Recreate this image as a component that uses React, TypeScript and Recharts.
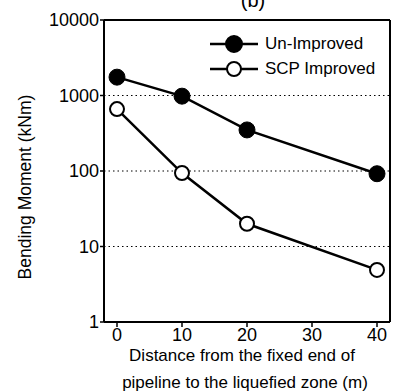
import React from 'react';
import { LineChart, Line, XAxis, YAxis, CartesianGrid, Legend, ReferenceLine } from 'recharts';

const distances = [0, 10, 20, 40];
const unImproved = [1750, 980, 350, 92];
const scpImproved = [660, 94, 20, 4.9];
const xTicks = [0, 10, 20, 30, 40];
const xMinorTicks = [5, 15, 25, 35];
const yTicks = [1, 10, 100, 1000, 10000];
const yMinorTicks = [2, 3, 4, 5, 6, 7, 8, 9, 20, 30, 40, 50, 60, 70, 80, 90, 200, 300, 400, 500, 600, 700, 800, 900, 2000, 3000, 4000, 5000, 6000, 7000, 8000, 9000];
const xDomain = [-2, 42];
const yDomain = [1, 10000];
const seriesNames = ['Un-Improved', 'SCP Improved'];

const data = distances.map((d, i) => ({ x: d, a: unImproved[i], b: scpImproved[i] }));

const FONT = 'Arial, "Liberation Sans", sans-serif';

const renderLegend = () => {
  return (
    <div style={{ fontFamily: FONT, fontSize: 17, color: '#000' }}>
      {seriesNames.map((name, i) => (
        <div key={i} style={{ display: 'flex', alignItems: 'center', height: 25 }}>
          <svg width={48} height={20} style={{ display: 'block' }}>
            <line x1={0} y1={10} x2={48} y2={10} stroke="#000" strokeWidth={2.5} />
            <circle cx={24} cy={10} r={i === 0 ? 8 : 7} fill={i === 0 ? '#000' : '#fff'} stroke="#000" strokeWidth={2} />
          </svg>
          <span style={{ marginLeft: 7, whiteSpace: 'nowrap' }}>{name}</span>
        </div>
      ))}
    </div>
  );
};

export default function App() {
  return (
    <div style={{ position: 'absolute', left: 0, top: 0 }}>
      <LineChart width={396} height={391} data={data} margin={{ top: 20, right: 6, bottom: 0, left: 0 }}>
        <CartesianGrid xAxisId="main" yAxisId="main" vertical={false} stroke="#000" strokeWidth={1} strokeDasharray="1.5 3" />
        <XAxis xAxisId="main" dataKey="x" type="number" domain={xDomain} ticks={xTicks} height={69}
          allowDataOverflow stroke="#000" strokeWidth={2} tickSize={5} tickLine={{ stroke: '#000', strokeWidth: 1.5 }}
          tick={{ fill: '#000', fontSize: 18, fontFamily: FONT }} tickMargin={1} />
        <XAxis xAxisId="minor" dataKey="x" type="number" domain={xDomain} ticks={xMinorTicks} height={0}
          mirror axisLine={false} tickSize={4} tickLine={{ stroke: '#000', strokeWidth: 1.5 }} tickFormatter={() => ''} />
        <YAxis yAxisId="main" scale="log" domain={yDomain} ticks={yTicks} allowDataOverflow width={104}
          stroke="#000" strokeWidth={2} tickSize={4} tickLine={{ stroke: '#000', strokeWidth: 1.5 }}
          tick={{ fill: '#000', fontSize: 18, fontFamily: FONT }} tickMargin={1} tickFormatter={(v: number) => String(v)} />
        <YAxis yAxisId="minor" scale="log" domain={yDomain} ticks={yMinorTicks} allowDataOverflow width={0}
          mirror axisLine={false} tickSize={4} tickLine={{ stroke: '#000', strokeWidth: 1 }} tickFormatter={() => ''} />
        <ReferenceLine xAxisId="main" yAxisId="main" y={yDomain[1]} stroke="#000" strokeWidth={2} />
        <ReferenceLine xAxisId="main" yAxisId="main" x={xDomain[1]} stroke="#000" strokeWidth={2} />
        <Legend content={renderLegend} layout="vertical" verticalAlign="middle" align="center"
          wrapperStyle={{ position: 'absolute', left: 210, top: 31, width: 180 }} />
        <Line xAxisId="main" yAxisId="main" dataKey="a" name={seriesNames[0]} stroke="#000" strokeWidth={2.5}
          dot={{ r: 8, fill: '#000', stroke: '#000', strokeWidth: 1 }} isAnimationActive={false} />
        <Line xAxisId="main" yAxisId="main" dataKey="b" name={seriesNames[1]} stroke="#000" strokeWidth={2.5}
          dot={{ r: 7, fill: '#fff', stroke: '#000', strokeWidth: 2 }} isAnimationActive={false} />
        <text x={253} y={7} textAnchor="middle" fontFamily={FONT} fontSize={20} fill="#000">(b)</text>
        <text x={31} y={187} textAnchor="middle" fontFamily={FONT} fontSize={17.5} fill="#000" transform="rotate(-90 31 187)">Bending Moment (kNm)</text>
        <text x={242} y={361} textAnchor="middle" fontFamily={FONT} fontSize={17} fill="#000">Distance from the fixed end of</text>
        <text x={245} y={388} textAnchor="middle" fontFamily={FONT} fontSize={17} fill="#000">pipeline to the liquefied zone (m)</text>
      </LineChart>
    </div>
  );
}
